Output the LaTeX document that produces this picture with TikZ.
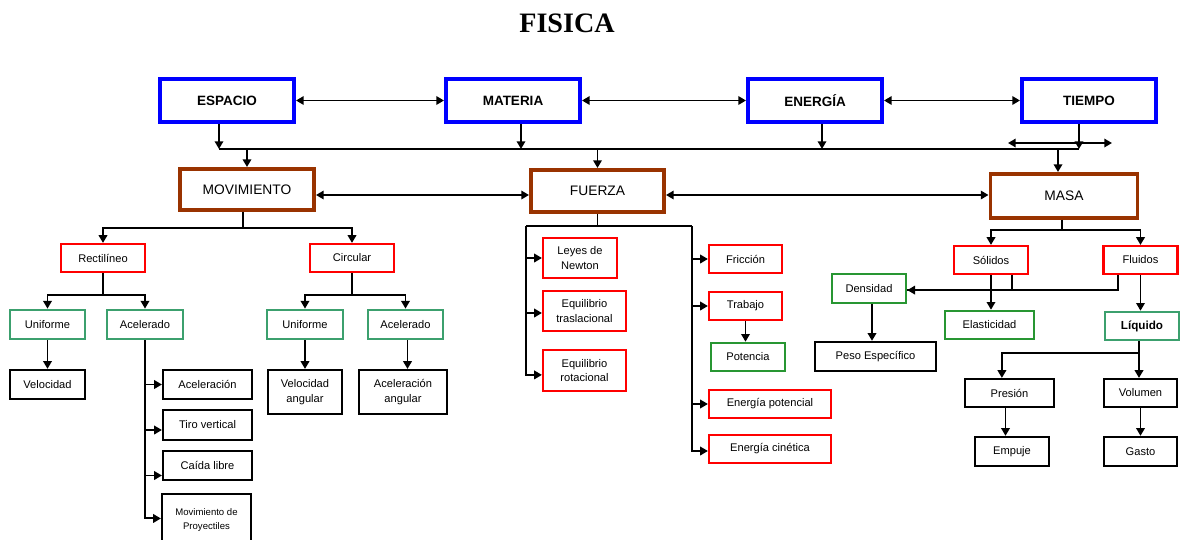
\documentclass[tikz,border=0pt]{standalone}
\usepackage{fontspec}
\setmainfont{Liberation Sans}
\newfontfamily\titlefont{Liberation Serif}
\usetikzlibrary{arrows.meta}

\definecolor{boxblue}{RGB}{0,0,255}
\definecolor{boxbrown}{RGB}{153,51,0}
\definecolor{boxred}{RGB}{255,0,0}
\definecolor{boxgreen}{RGB}{40,150,50}
\definecolor{boxteal}{RGB}{60,160,110}

\begin{document}
\begin{tikzpicture}[
	x = 0.025cm, y = -0.025cm, % one unit = one pixel, y going down
	> = {Triangle[length=5.5pt,width=6pt]}, % arrow head style
	line width = 1.4pt, % line style
	font = \fontsize{7.9}{10.5}\selectfont
	]
	
	\tikzstyle{topbox}=[draw = boxblue, line width = 2.8pt,
	minimum width = 3.35cm, minimum height = 1.075cm,
	font = \fontsize{9.6}{12}\selectfont\bfseries]
	\tikzstyle{midbox}=[draw = boxbrown, line width = 2.8pt,
	minimum width = 3.35cm, minimum height = 1.025cm,
	font = \fontsize{9.8}{12}\selectfont]
	\tikzstyle{redbox}=[draw = boxred, line width = 1.5pt,
	minimum width = 1.85cm, minimum height = 0.7cm, align = center]
	\tikzstyle{greenbox}=[draw = boxteal, line width = 1.5pt,
	minimum width = 1.89cm, minimum height = 0.74cm, align = center]
	\tikzstyle{blackbox}=[draw = black, line width = 1.5pt,
	minimum width = 2.225cm, minimum height = 0.73cm, align = center]
	
	\useasboundingbox (0,0) rectangle (1180,540);
	
	\node[font=\titlefont\fontsize{20}{22}\selectfont\bfseries] (title) at (567,23) {FISICA};
	
	% first row
	\node[topbox] (espacio) at (227,100.5) {ESPACIO};
	\node[topbox] (materia) at (513,100.5) {MATERIA};
	\node[topbox] (energia) at (815,100.5) {ENERGÍA};
	\node[topbox] (tiempo) at (1089,100.5) {TIEMPO};
	
	% second row
	\node[midbox] (movimiento) at (247,189.5) {MOVIMIENTO};
	\node[midbox, minimum width=3.325cm, minimum height=1.05cm] (fuerza) at (597.5,191) {FUERZA};
	\node[midbox, minimum width=3.675cm, minimum height=1.1cm] (masa) at (1064,196) {MASA};
	
	% movimiento
	\node[redbox, minimum width=2.1cm] (rect) at (103,258) {Rectilíneo};
	\node[redbox, minimum width=2.1cm] (circ) at (352,258) {Circular};
	\node[greenbox] (unifL) at (47.5,324.5) {Uniforme};
	\node[greenbox] (acelL) at (145,324.5) {Acelerado};
	\node[greenbox] (unifC) at (305,324.5) {Uniforme};
	\node[greenbox] (acelC) at (405.5,324.5) {Acelerado};
	\node[blackbox, minimum width=1.875cm] (velocidad) at (47.5,384.5) {Velocidad};
	\node[blackbox] (aceleracion) at (207.5,384.5) {Aceleración};
	\node[blackbox] (tiro) at (207.5,425) {Tiro vertical};
	\node[blackbox] (caida) at (207.5,465.5) {Caída libre};
	\node[blackbox, anchor=north, minimum height=1.3cm,
	font=\fontsize{6.8}{10}\selectfont] (proyectiles) at (206.5,493) {Movimiento de\\Proyectiles};
	\node[blackbox, minimum width=1.85cm, minimum height=1.1cm] (velang) at (305,392) {Velocidad\\angular};
	\node[blackbox, minimum width=2.2cm, minimum height=1.1cm] (acelang) at (403,392) {Aceleración\\angular};
	
	% fuerza
	\node[redbox, minimum height=1cm] (leyes) at (580,258) {Leyes de\\Newton};
	\node[redbox, minimum width=2.075cm, minimum height=1cm] (eqtras) at (584.5,311) {Equilibrio\\traslacional};
	\node[redbox, minimum width=2.075cm, minimum height=1.025cm] (eqrot) at (584.5,370.5) {Equilibrio\\rotacional};
	\node[redbox, minimum width=1.825cm] (friccion) at (745.5,259) {Fricción};
	\node[redbox, minimum width=1.825cm] (trabajo) at (745.5,306) {Trabajo};
	\node[greenbox, draw=boxgreen, minimum width=1.86cm, minimum height=0.71cm] (potencia) at (748,357) {Potencia};
	\node[redbox, minimum width=3.05cm] (epot) at (770,404) {Energía potencial};
	\node[redbox, minimum width=3.05cm] (ecin) at (770,449) {Energía cinética};
	
	% masa
	\node[redbox] (solidos) at (991,260) {Sólidos};
	\node[redbox] (fluidos) at (1140.5,260) {Fluidos};
	\node[greenbox, draw=boxgreen, minimum width=1.86cm] (densidad) at (869,288.5) {Densidad};
	\node[greenbox, draw=boxgreen, minimum width=2.24cm, minimum height=0.71cm] (elasticidad) at (989.5,325) {Elasticidad};
	\node[greenbox, minimum width=1.86cm, minimum height=0.71cm,
	font=\fontsize{8.3}{10}\selectfont\bfseries] (liquido) at (1142,326) {Líquido};
	\node[blackbox, minimum width=3.025cm] (peso) at (875.5,356.5) {Peso Específico};
	\node[blackbox, minimum height=0.7cm] (presion) at (1009.5,393) {Presión};
	\node[blackbox, minimum width=1.825cm, minimum height=0.7cm] (volumen) at (1140.5,393) {Volumen};
	\node[blackbox, minimum width=1.85cm] (empuje) at (1012,451.5) {Empuje};
	\node[blackbox, minimum width=1.825cm] (gasto) at (1140.5,451.5) {Gasto};
	
	% junctions
	\coordinate (busW) at (219,149);
	\coordinate (busE) at (1079,149);
	\coordinate (tW) at (1008,143);
	\coordinate (tE) at (1112,143);
	\coordinate (mid) at (0,195);
	\coordinate (fL) at (526,226);
	\coordinate (fR) at (692,226);
	
	% first row links
	\draw[<->] (espacio) -- (materia);
	\draw[<->] (materia) -- (energia);
	\draw[<->] (energia) -- (tiempo);
	\draw (busW) -- (busE);
	\draw[->] (espacio.south -| busW) -- (busW);
	\draw[->] ([xshift=2mm]materia.south) -- ([xshift=2mm]materia.south |- busW);
	\draw[->] ([xshift=1.75mm]energia.south) -- ([xshift=1.75mm]energia.south |- busW);
	\draw[->] (tiempo.south -| busE) -- (busE);
	\draw[<->] (tW) -- (tE);
	\draw[->] (movimiento.north |- busW) -- (movimiento.north);
	\draw[->] (fuerza.north |- busW) -- (fuerza.north);
	\draw[->] ([xshift=-1.5mm]masa.north |- busW) -- ([xshift=-1.5mm]masa.north);
	
	% second row links
	\draw[<->] (movimiento.east |- mid) -- (fuerza.west |- mid);
	\draw[<->] (fuerza.east |- mid) -- (masa.west |- mid);
	
	% movimiento links
	\draw[->] ([xshift=-1mm]movimiento.south) -- ++(0,16) -| (rect.north);
	\draw[->] ([xshift=-1mm]movimiento.south) -- ++(0,16) -| (circ.north);
	\draw[->] (rect.south) -- ++(0,22) -| (unifL.north);
	\draw[->] (rect.south) -- ++(0,22) -| (acelL.north);
	\draw[->] (circ.south) -- ++(0,22) -| (unifC.north);
	\draw[->] (circ.south) -- ++(0,22) -| (acelC.north);
	\draw[->] (unifL) -- (velocidad);
	\draw[->] (unifC) -- (velang);
	\draw[->] ([xshift=0.5mm]acelC.south) -- ([xshift=0.5mm]acelC.south |- acelang.north);
	\draw[->] (acelL.south) |- (aceleracion.west);
	\draw[->] (acelL.south) |- ([yshift=-1.25mm]tiro.west);
	\draw[->] (acelL.south) |- ([yshift=-2.5mm]caida.west);
	\draw[->] (acelL.south) |- ([yshift=0.4mm]proyectiles.west);
	
	% fuerza links
	\draw (fuerza.south) -- (fuerza.south |- fL);
	\draw (fL) -- (fR);
	\draw[->] (fL) |- (leyes.west);
	\draw[->] (fL) |- ([yshift=-0.5mm]eqtras.west);
	\draw[->] (fL) |- ([yshift=-1.1mm]eqrot.west);
	\draw[->] (fR) |- (friccion.west);
	\draw[->] (fR) |- (trabajo.west);
	\draw[->] (fR) |- (epot.west);
	\draw[->] (fR) |- ([yshift=-0.5mm]ecin.west);
	\draw[->] (trabajo.south) -- (trabajo.south |- potencia.north);
	
	% masa links
	\draw[->] ([xshift=-0.5mm]masa.south) -- ++(0,10) -| (solidos.north);
	\draw[->] ([xshift=-0.5mm]masa.south) -- ++(0,10) -| (fluidos.north);
	\draw[->] (solidos.south) -- (solidos.south |- elasticidad.north);
	\draw[->] ([xshift=5.25mm]solidos.south) |- ([yshift=-0.4mm]densidad.east);
	\draw ([xshift=-5.6mm]fluidos.south) |- ([yshift=-0.4mm]densidad.east);
	\draw[->] (fluidos.south) -- (fluidos.south |- liquido.north);
	\draw[->] ([xshift=0.75mm]densidad.south) -- ([xshift=0.75mm]densidad.south |- peso.north);
	\draw[->] ([xshift=-0.75mm]liquido.south) -- ++(0,12) -| ([xshift=-1.9mm]presion.north);
	\draw[->] ([xshift=-0.75mm]liquido.south) -- ([xshift=-0.75mm]liquido.south |- volumen.north);
	\draw[->] ([xshift=-1mm]presion.south) -- ([xshift=-1mm]presion.south |- empuje.north);
	\draw[->] (volumen.south) -- (volumen.south |- gasto.north);
	
\end{tikzpicture}
\end{document}
